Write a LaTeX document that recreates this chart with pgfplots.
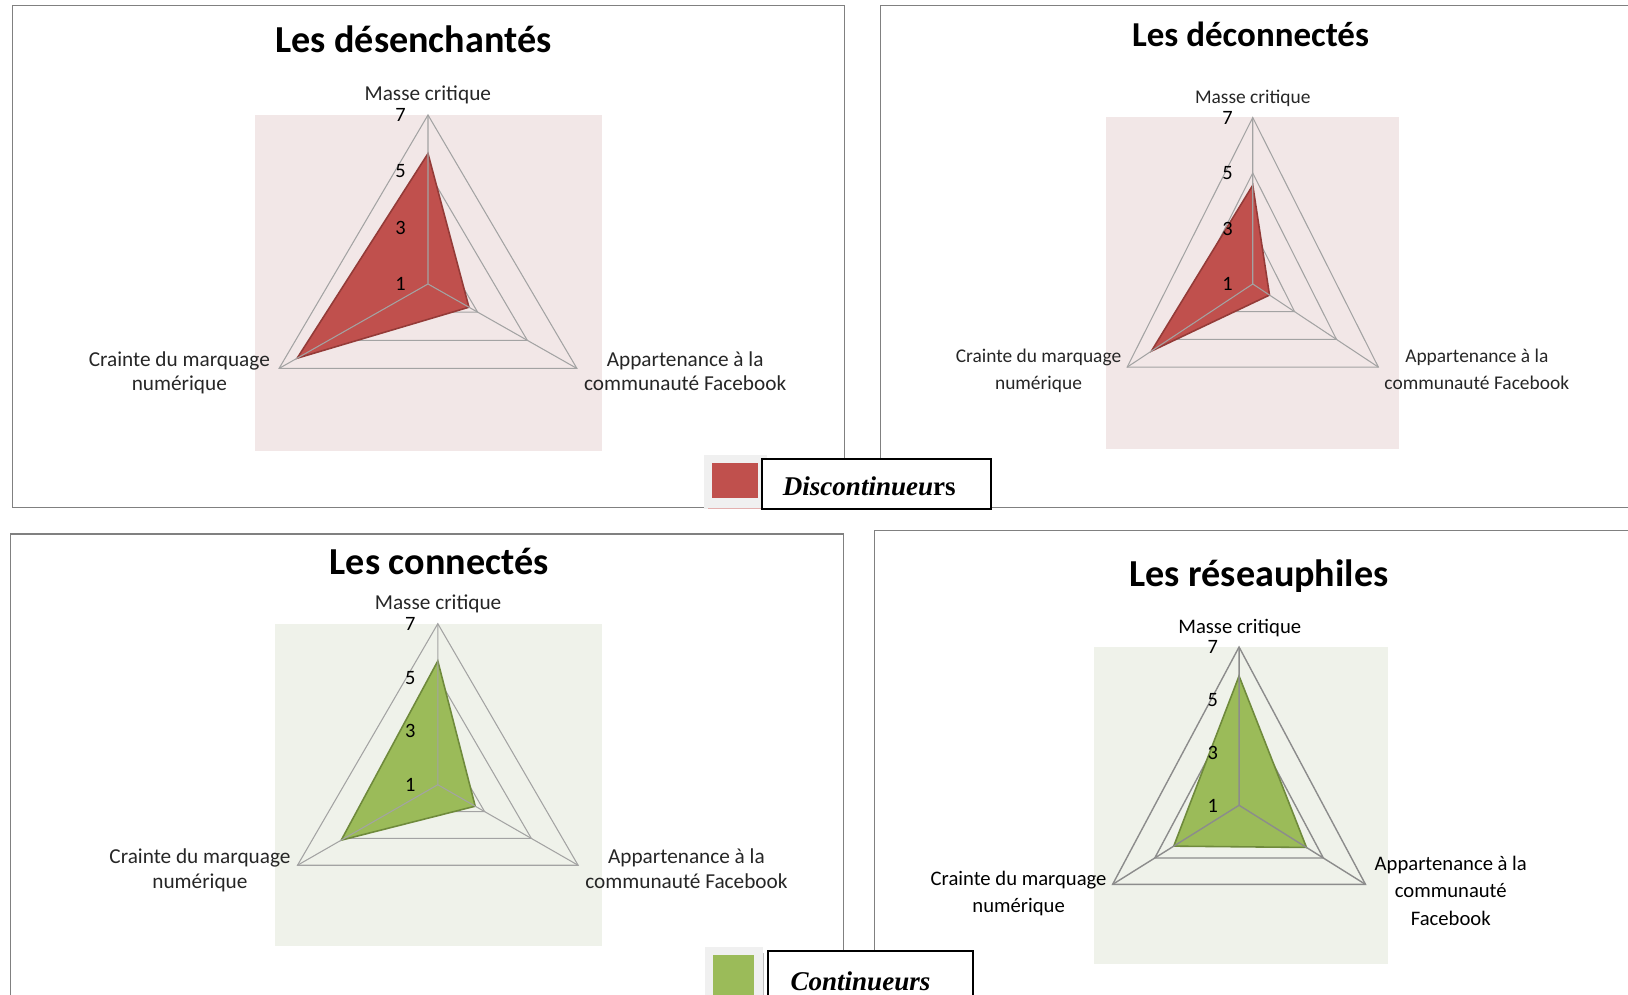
\documentclass[border=0pt]{standalone}
\usepackage{fontspec}
\setmainfont{Carlito}
\newfontfamily\legfont{Liberation Serif}
\usepackage{pgfplots}
\usepackage{pgfplotstable}
\pgfplotsset{compat=1.18}

\definecolor{redfill}{HTML}{C0504D}
\definecolor{redline}{HTML}{943B38}
\definecolor{greenfill}{HTML}{9BBB59}
\definecolor{greenline}{HTML}{6F8A3C}
\definecolor{pinkbg}{HTML}{F2E7E7}
\definecolor{greenbg}{HTML}{EFF2EA}
\definecolor{gridgray}{HTML}{A3A3A3}
\definecolor{framegray}{HTML}{808080}

% a = direction of the axis (deg), v = score; the centre of the radar is 1
\pgfplotstableread{
a v
90 5.63
-30 2.65
210 6.27
}\desenchantes
\pgfplotstableread{
a v
90 4.56
-30 1.8
210 5.84
}\deconnectes
\pgfplotstableread{
a v
90 5.61
-30 2.6
210 5.13
}\connectes
\pgfplotstableread{
a v
90 5.9
-30 4.2
210 4.1
}\reseauphiles
\pgfplotstableread{
a g7 g5 g3
90 7 5 3
-30 7 5 3
210 7 5 3
}\gridtab
\pgfplotstableread{
a v
90 1
90 7
-30 1
-30 7
210 1
210 7
}\spokes

\pgfplotsset{
  radar/.style={scale only axis, hide axis, clip=false, anchor=south west},
  table/rx/.style={x expr={(\thisrow{#1}-1)*cos(\thisrow{a})},
                   y expr={(\thisrow{#1}-1)*sin(\thisrow{a})}},
}

% grid, series, spokes
\newcommand\radarbody[4]{%
  \addplot[#4] table[rx=g7] {\gridtab} -- cycle;
  \addplot[#4] table[rx=g5] {\gridtab} -- cycle;
  \addplot[#4] table[rx=g3] {\gridtab} -- cycle;
  \addplot[fill=#2, draw=#3, line width=0.9pt] table[rx=v] {#1} -- cycle;
  \addplot[#4] table[rx=v] {\spokes};
}

\begin{document}
\begin{tikzpicture}[
  lab/.style={font=\fontsize{12.1}{14}\selectfont, anchor=base, inner sep=0pt, text=black!85},
  tk/.style={font=\fontsize{11.6}{14}\selectfont, anchor=east, inner sep=0pt},
  ttl/.style={font=\fontsize{21.7}{26}\selectfont\bfseries, anchor=base, inner sep=0pt},
  gl/.style={gridgray, line width=0.6pt},
]
\path[use as bounding box] (0,0) rectangle (32.56cm,-19.9cm);

% frames and plot areas, 1 unit = 1 px of the reference
\begin{scope}[x=0.02cm, y=-0.02cm]
  \begin{scope}[framegray, line width=0.7pt]
    \draw (12.5,5.5) rectangle (844.5,507.7);
    \draw (1628,5.5) -- (880.5,5.5) -- (880.5,507.7) -- (1628,507.7);
    \draw (10.4,995) -- (10.4,534) -- (843,534) -- (843,995);
    \draw (1628,530.5) -- (874,530.5) -- (874,995);
  \end{scope}
  \fill[pinkbg] (255,114.7) rectangle (601.7,451);
  \fill[pinkbg] (1106,117.3) rectangle (1399,448.7);
  \fill[greenbg] (275,623.7) rectangle (601.7,946.3);
  \fill[greenbg] (1093.3,647) rectangle (1387.7,964.3);
\end{scope}

\begin{axis}[radar, at={(5.1cm,-9.02cm)}, width=6.934cm, height=6.726cm,
  xmin=-6.035, xmax=6.06, ymin=-5.93, ymax=6.01]
\radarbody{\desenchantes}{redfill}{redline}{gl}
\end{axis}

\begin{axis}[radar, at={(22.12cm,-8.974cm)}, width=5.86cm, height=6.628cm,
  xmin=-6.07, xmax=6.05, ymin=-5.94, ymax=6.01]
\radarbody{\deconnectes}{redfill}{redline}{gl}
\end{axis}

\begin{axis}[radar, at={(5.5cm,-18.926cm)}, width=6.534cm, height=6.452cm,
  xmin=-6.03, xmax=6.07, ymin=-6.02, ymax=6]
\radarbody{\connectes}{greenfill}{greenline}{gl}
\end{axis}

\begin{axis}[radar, at={(21.866cm,-19.286cm)}, width=5.888cm, height=6.346cm,
  xmin=-5.99, xmax=6.11, ymin=-6.03, ymax=6]
\radarbody{\reseauphiles}{greenfill}{greenline}{gl, draw=black!45, line width=0.8pt}
\end{axis}

\begin{scope}[x=0.02cm, y=-0.02cm]
  % titles
  \node[ttl] at (413.3,52) {Les désenchantés};
  \node[ttl, font=\fontsize{19.9}{24}\selectfont\bfseries] at (1250.3,46) {Les déconnectés};
  \node[ttl] at (439,574) {Les connectés};
  \node[ttl] at (1258.7,586.5) {Les réseauphiles};

  % chart 1
  \node[lab] at (427.7,100.3) {Masse critique};
  \node[lab] at (179.3,366) {Crainte du marquage};
  \node[lab] at (179.3,390) {numérique};
  \node[lab] at (685,366) {Appartenance à la};
  \node[lab] at (685,390) {communauté Facebook};
  \node[tk] at (406,115) {7};
  \node[tk] at (406,171.3) {5};
  \node[tk] at (406,227.7) {3};
  \node[tk] at (406,284) {1};

  % chart 2
  \begin{scope}[lab/.append style={font=\fontsize{11.05}{13}\selectfont}]
  \node[lab] at (1252.5,103) {Masse critique};
  \node[lab] at (1038.3,362.5) {Crainte du marquage};
  \node[lab] at (1038.3,389.5) {numérique};
  \node[lab] at (1476.5,362.5) {Appartenance à la};
  \node[lab] at (1476.5,389.5) {communauté Facebook};
  \end{scope}
  \node[tk] at (1232.7,117.7) {7};
  \node[tk] at (1232.7,173.1) {5};
  \node[tk] at (1232.7,228.6) {3};
  \node[tk] at (1232.7,284) {1};

  % chart 3
  \node[lab] at (438,609.3) {Masse critique};
  \node[lab] at (199.9,863) {Crainte du marquage};
  \node[lab] at (199.9,888) {numérique};
  \node[lab] at (686.3,863) {Appartenance à la};
  \node[lab] at (686.3,888) {communauté Facebook};
  \node[tk] at (415.7,623.7) {7};
  \node[tk] at (415.7,677.4) {5};
  \node[tk] at (415.7,731) {3};
  \node[tk] at (415.7,784.7) {1};

  % chart 4
  \begin{scope}[lab/.append style={text=black, font=\fontsize{11.75}{14}\selectfont}]
  \node[lab] at (1239.5,633.7) {Masse critique};
  \node[lab] at (1018.4,885) {Crainte du marquage};
  \node[lab] at (1018.4,912) {numérique};
  \node[lab] at (1450.5,870.3) {Appartenance à la};
  \node[lab] at (1450.5,897.3) {communauté};
  \node[lab] at (1450.5,925.4) {Facebook};
  \end{scope}
  \node[tk] at (1218,647) {7};
  \node[tk] at (1218,699.8) {5};
  \node[tk] at (1218,752.5) {3};
  \node[tk] at (1218,805.3) {1};

  % legends
  \fill[black!6] (704,455) rectangle (767,509);
  \fill[redfill] (711.7,463.3) rectangle (758.3,497.7);
  \draw[redfill!45, line width=1pt] (708,508.5) -- (768,508.5);
  \draw[fill=white, line width=1.1pt] (761.7,458.7) rectangle (991,508.7);
  \node[anchor=base west, inner sep=0pt, font=\legfont\fontsize{15.4}{18}\selectfont]
    at (782.3,495.3) {\bfseries\itshape Discontinueu\upshape rs};

  \fill[black!6] (705,947) rectangle (763,995);
  \fill[greenfill] (713.3,955) rectangle (754.3,995);
  \draw[black!25, line width=0.6pt] (763.5,953) -- (763.5,995);
  \fill[white] (767.7,951) rectangle (972.7,995);
  \draw[line width=1.1pt] (767.7,995) -- (767.7,951) -- (972.7,951) -- (972.7,995);
  \node[anchor=base west, inner sep=0pt, font=\legfont\fontsize{15.4}{18}\selectfont]
    at (790,990) {\bfseries\itshape Continueurs};
\end{scope}
\end{tikzpicture}
\end{document}
